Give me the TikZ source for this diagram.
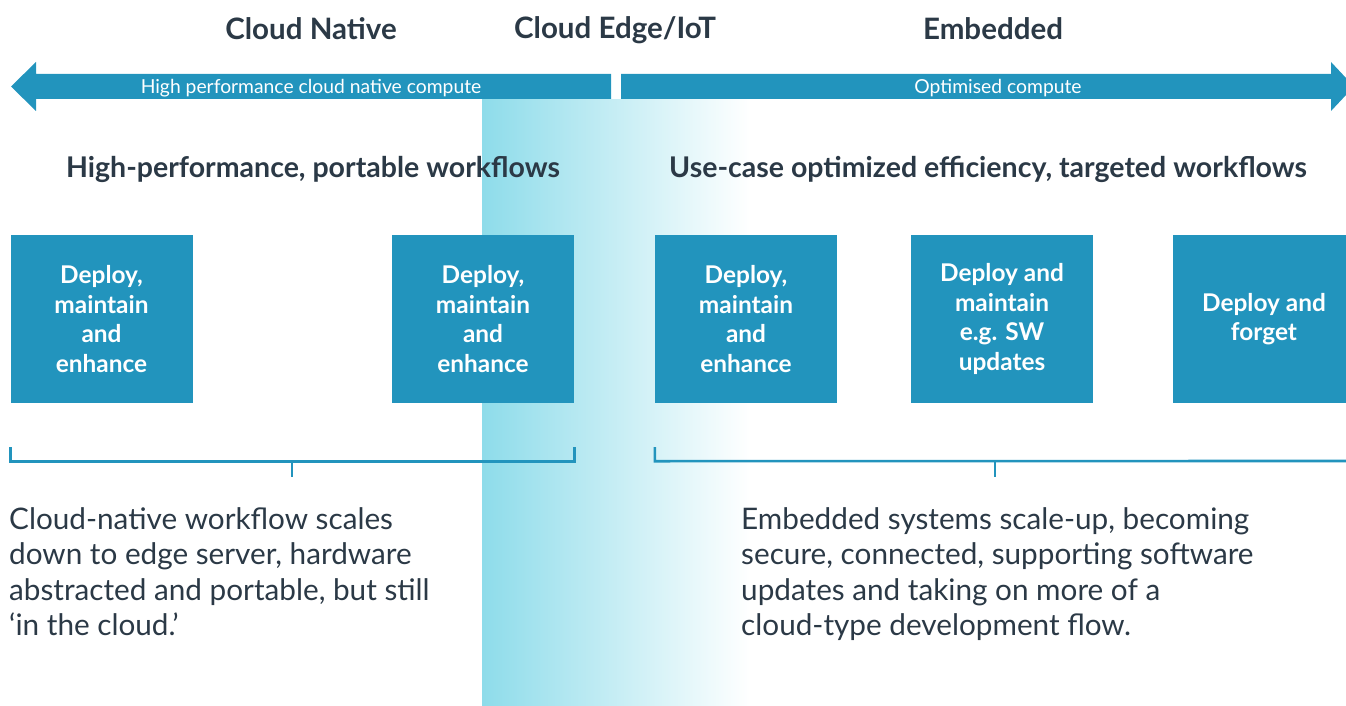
\documentclass[tikz,border=0pt]{standalone}
\usepackage{fontspec}
\setmainfont{Lato}
\usetikzlibrary{positioning,calc}

\definecolor{boxblue}{HTML}{2294BD}
\definecolor{darktext}{HTML}{2B3946}
\definecolor{edgecyan}{HTML}{8EDCEA}

\tikzset{
  title/.style={text=darktext, font=\fontsize{29.5}{34}\selectfont\bfseries},
  heading/.style={text=darktext, font=\fontsize{28.5}{33}\selectfont\bfseries},
  band/.style={fill=boxblue, draw=none},
  bandtext/.style={text=white, font=\fontsize{19.3}{22}\selectfont},
  deploybox/.style={fill=boxblue, minimum width=182pt, minimum height=168pt,
    text=white, align=center, inner sep=0pt,
    font=\fontsize{24.4}{29.5}\selectfont\bfseries},
  bracket/.style={draw=boxblue, line width=2.6pt},
  body/.style={text=darktext, align=left, anchor=north west, inner sep=0pt,
    font=\fontsize{29.7}{35.5}\selectfont}
}

\begin{document}
\begin{tikzpicture}[x=1pt,y=-1pt]
  \useasboundingbox (0,0) rectangle (1346,706);

  % edge zone fading out to the right
  \shade[left color=edgecyan, right color=white] (482,100) rectangle (750,706);

  % column titles
  \node[title] (native) at (311,29) {Cloud Native};
  \node[title] (edge) at (615,30) {Cloud Edge/IoT};
  \node[title] (embedded) at (993,29) {Embedded};

  % the two compute arrows
  \fill[band] (611,74) -- (36,74) -- (36,62) -- (11,86.5) -- (36,111)
    -- (36,99) -- (611,99) -- cycle;
  \fill[band] (621,74) -- (1331,74) -- (1331,62) -- (1346,78) -- (1346,95)
    -- (1331,111) -- (1331,99) -- (621,99) -- cycle;
  \node[bandtext] (hpc) at (311,88.5) {High performance cloud native compute};
  \node[bandtext] (opt) at (998,88.5) {Optimised compute};

  % workflow headings
  \node[heading] (portable) at (313,169) {High-performance, portable workflows};
  \node[heading] (targeted) at (988,169) {Use-case optimized efficiency, targeted workflows};

  % deployment boxes
  \node[deploybox] (d1) at (101.5,319) {Deploy,\\maintain\\and\\enhance};
  \node[deploybox] (d2) at (483,319) {Deploy,\\maintain\\and\\enhance};
  \node[deploybox] (d3) at (746,319) {Deploy,\\maintain\\and\\enhance};
  \node[deploybox] (d4) at (1002,319) {Deploy and\\maintain\\e.g. SW\\updates};
  \node[deploybox] (d5) at (1264,319) {Deploy and\\forget};

  % brackets under the boxes
  \coordinate (bl) at ($(d1.south west)+(0,44)$);
  \coordinate (br) at ($(d2.south east)+(0,44)$);
  \coordinate (cl) at ($(d3.south west)+(0,44)$);
  \coordinate (cr) at (1346,461);
  \draw[bracket] (bl) -- ++(0,14) -| (br);
  \draw[bracket] (292,461) -- ++(0,16);
  \draw[bracket] (cl) -- ++(0,14) -- (cr);
  \draw[bracket] (995,461) -- ++(0,16);

  % descriptions
  \node[body] (leftdesc) at (9,507) {Cloud-native workflow scales\\down to edge server, hardware\\abstracted and portable, but still\\‘in the cloud.’};
  \node[body] (rightdesc) at (741,507) {Embedded systems scale-up, becoming\\secure, connected, supporting software\\updates and taking on more of a\\cloud-type development flow.};
\end{tikzpicture}
\end{document}
